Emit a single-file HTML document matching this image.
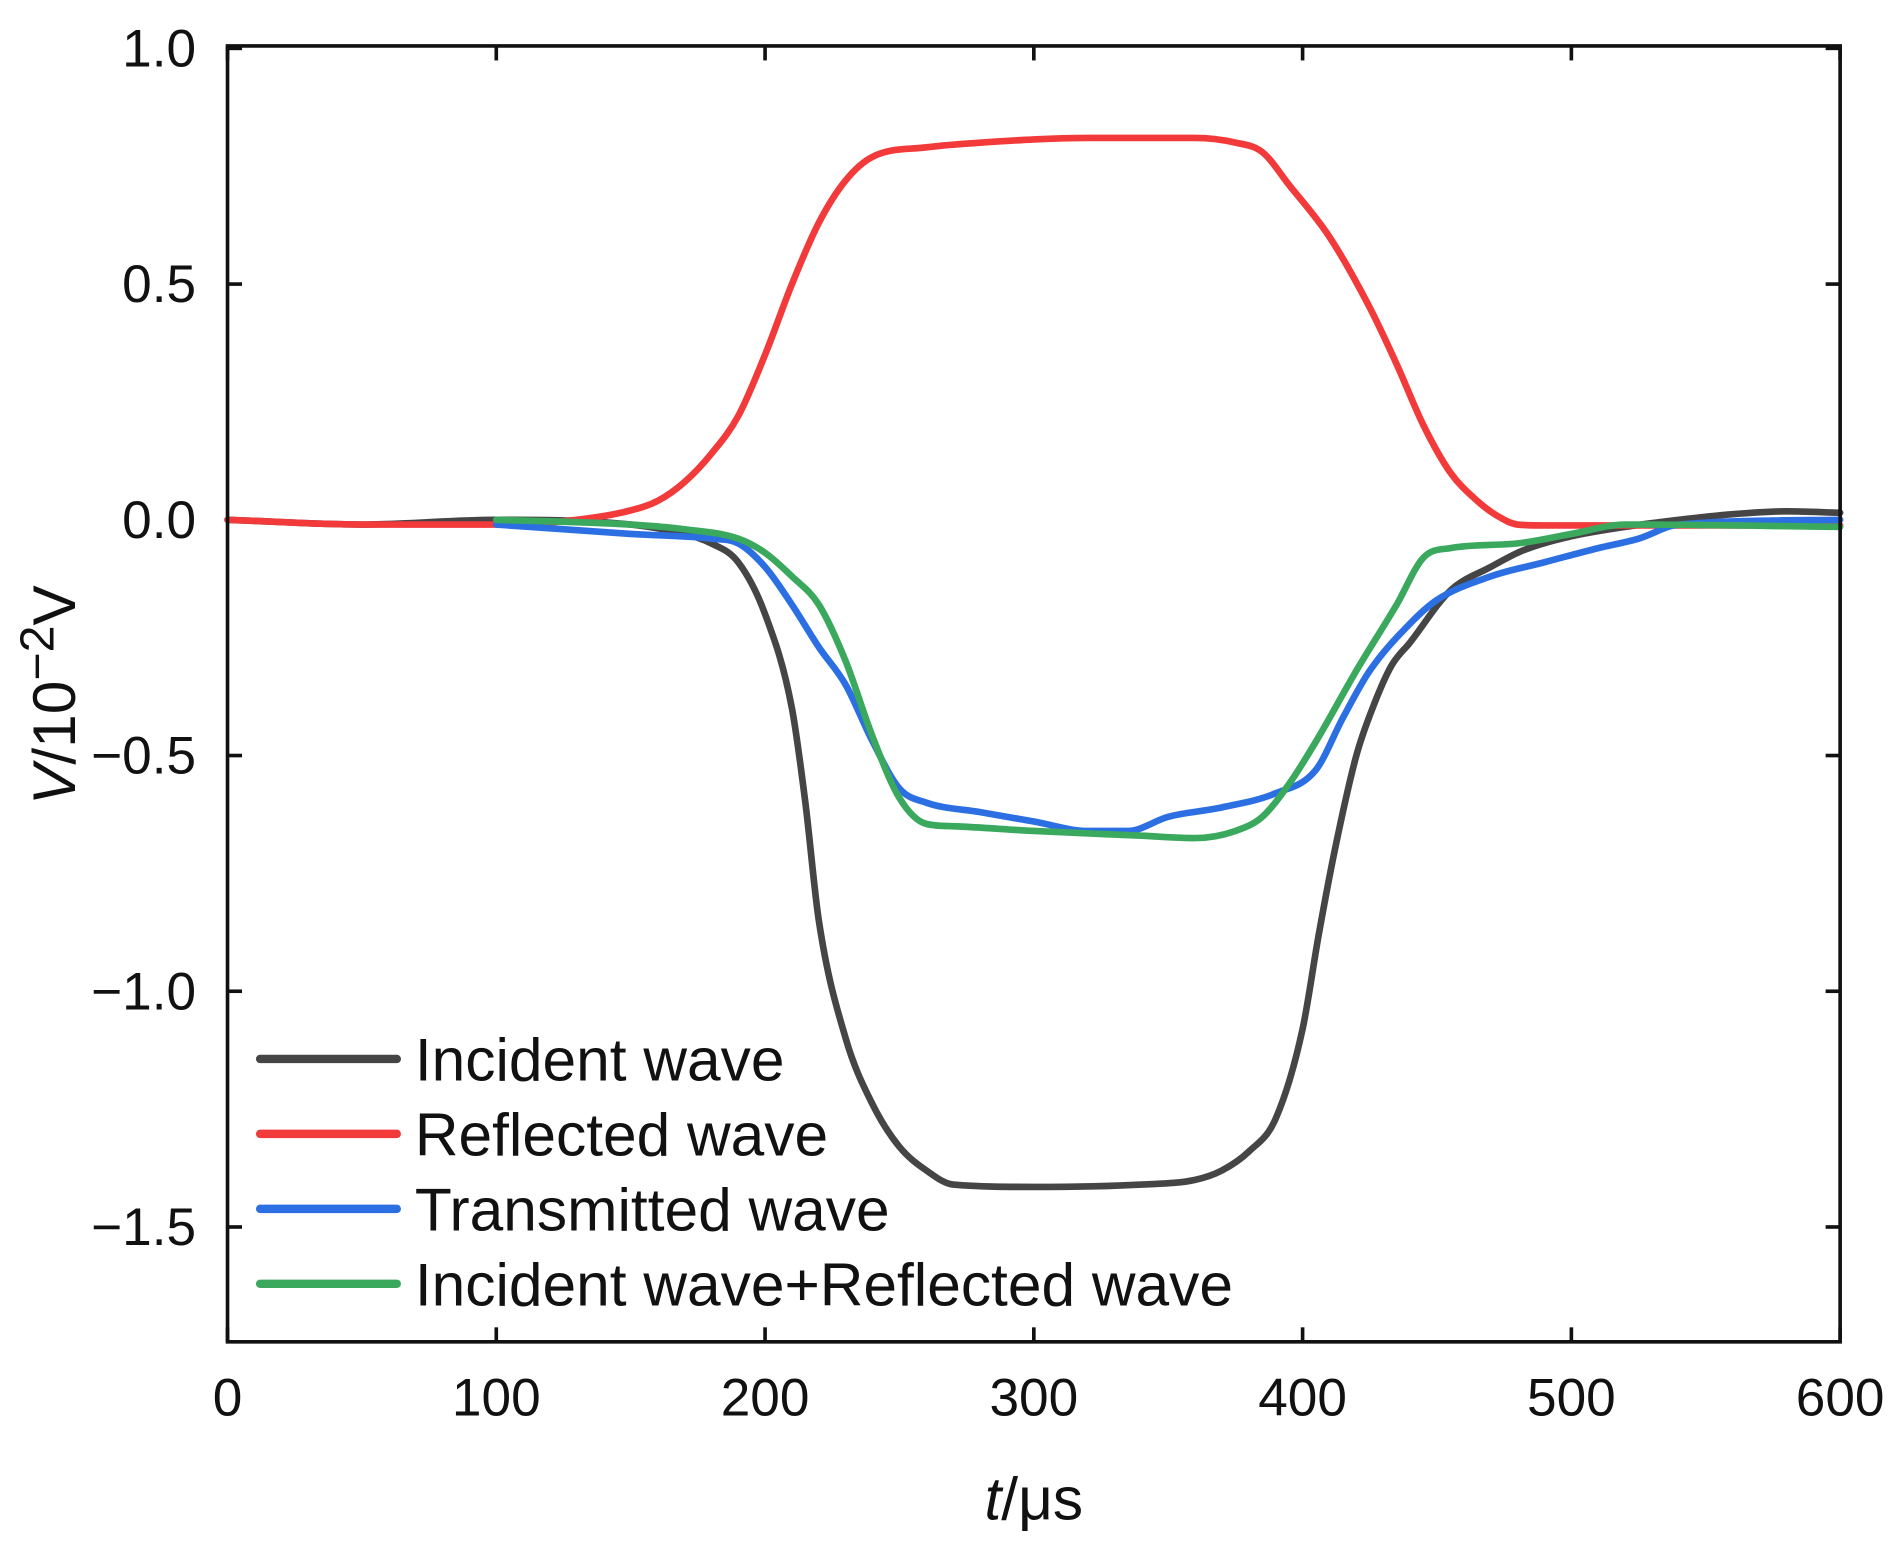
<!DOCTYPE html>
<html><head><meta charset="utf-8"><style>
html,body{margin:0;padding:0;background:#fff}
svg{display:block}
text{font-family:"Liberation Sans",Arial,sans-serif;fill:#111}
</style></head><body>
<svg id="chart" width="1896" height="1557" viewBox="0 0 1568 1288">
<g id="ticks"></g>
<g id="series"></g>
<rect x="188" y="38" width="1334" height="1072" fill="none" stroke="#111" stroke-width="3"/>
<text x="855" y="1257" font-size="50" text-anchor="middle"><tspan font-style="italic">t</tspan>/μs</text>
<text transform="translate(62,575) rotate(-90)" font-size="50" text-anchor="middle"><tspan font-style="italic">V</tspan>/10<tspan font-size="40" dy="-18">−2</tspan><tspan dy="18">V</tspan></text>
<g id="legend"></g>
</svg>
<script>
const xTicks=[0,100,200,300,400,500,600];
const yTicks=[1.0,0.5,0.0,-0.5,-1.0,-1.5];
const yTickLabels=["1.0","0.5","0.0","−0.5","−1.0","−1.5"];
const seriesNames=["Incident wave","Reflected wave","Transmitted wave","Incident wave+Reflected wave"];
const seriesColors=["#454545","#f23a3a","#2b6fe3","#3aa95e"];
const incT=[0,50,100,150,170,180,190,200,210,215,220,230,240,250,260,270,300,340,360,370,380,390,400,406,412,420,426,433,440,455,470,482,500,520,540,560,580,600];
const incV=[0,-0.01,0,-0.01,-0.03,-0.05,-0.09,-0.2,-0.4,-0.6,-0.85,-1.1,-1.24,-1.33,-1.38,-1.41,-1.415,-1.41,-1.40,-1.38,-1.34,-1.27,-1.08,-0.88,-0.7,-0.5,-0.4,-0.31,-0.26,-0.15,-0.1,-0.065,-0.035,-0.015,0,0.012,0.018,0.015];
const refT=[0,50,100,130,150,160,170,180,190,200,210,220,230,240,260,280,320,360,375,385,395,410,425,435,445,455,465,472,480,490,600];
const refV=[0,-0.01,-0.01,0,0.02,0.04,0.08,0.14,0.22,0.35,0.5,0.63,0.72,0.77,0.79,0.80,0.81,0.81,0.80,0.78,0.71,0.6,0.45,0.33,0.2,0.1,0.04,0.01,-0.01,-0.012,-0.012];
const traT=[100,150,180,190,200,210,220,230,240,250,260,280,300,320,335,350,370,390,405,415,425,440,450,470,490,510,525,540,600];
const traV=[-0.01,-0.03,-0.04,-0.05,-0.1,-0.18,-0.27,-0.35,-0.47,-0.57,-0.6,-0.62,-0.64,-0.66,-0.66,-0.63,-0.61,-0.58,-0.53,-0.42,-0.32,-0.22,-0.17,-0.12,-0.09,-0.06,-0.04,-0.01,0];
const sumT=[100,150,170,190,200,210,220,230,240,250,260,270,300,340,360,375,385,395,405,420,435,445,455,480,500,520,600];
const sumV=[0,-0.01,-0.02,-0.04,-0.07,-0.12,-0.18,-0.3,-0.46,-0.59,-0.645,-0.65,-0.66,-0.67,-0.675,-0.66,-0.63,-0.56,-0.47,-0.32,-0.18,-0.08,-0.06,-0.05,-0.03,-0.01,-0.015];
const X=t=>188+t*1334/600;
const Y=v=>430-390*v;
const NS="http://www.w3.org/2000/svg";
function mk(tag,attrs,parent){const e=document.createElementNS(NS,tag);for(const k in attrs)e.setAttribute(k,attrs[k]);parent.appendChild(e);return e;}
const tg=document.getElementById('ticks');
xTicks.forEach(t=>{
 const a=mk('line',{x1:X(t),x2:X(t),y1:1110,y2:1098,stroke:'#111','stroke-width':3},tg);
 
 
 const b=mk('line',{x1:X(t),x2:X(t),y1:38,y2:50,stroke:'#111','stroke-width':3},tg);
 
 
 const l=mk('text',{x:X(t),y:1171,'font-size':44,'text-anchor':'middle'},tg);
 l.textContent=t;
 
 
});
yTicks.forEach((v,i)=>{
 const a=mk('line',{x1:188,x2:200,y1:Y(v),y2:Y(v),stroke:'#111','stroke-width':3},tg);
 
 
 const b=mk('line',{x1:1510,x2:1522,y1:Y(v),y2:Y(v),stroke:'#111','stroke-width':3},tg);
 
 
 const l=mk('text',{x:162,y:Y(v)+15,'font-size':44,'text-anchor':'end'},tg);
 l.textContent=yTickLabels[i];
 
 
});
const sg=document.getElementById('series');
const data=[[incT,incV],[refT,refV],[traT,traV],[sumT,sumV]];
function monotone(ts,vs){
 const n=ts.length,x=ts.map(X),y=vs.map(Y);
 const d=[],m=new Array(n);
 for(let i=0;i<n-1;i++)d.push((y[i+1]-y[i])/(x[i+1]-x[i]));
 m[0]=d[0];m[n-1]=d[n-2];
 for(let i=1;i<n-1;i++){m[i]=(d[i-1]*d[i]<=0)?0:(d[i-1]+d[i])/2;}
 for(let i=0;i<n-1;i++){
  if(d[i]===0){m[i]=0;m[i+1]=0;continue;}
  const a=m[i]/d[i],b=m[i+1]/d[i],s=a*a+b*b;
  if(s>9){const t=3/Math.sqrt(s);m[i]=t*a*d[i];m[i+1]=t*b*d[i];}
 }
 let p=`M${x[0]},${y[0]}`;
 for(let i=0;i<n-1;i++){
  const h=(x[i+1]-x[i])/3;
  p+=` C${x[i]+h},${y[i]+m[i]*h} ${x[i+1]-h},${y[i+1]-m[i+1]*h} ${x[i+1]},${y[i+1]}`;
 }
 return p;
}
const keys=['incident-wave-line','reflected-wave-line','transmitted-wave-line','sum-wave-line'];
[0,1,2,3].forEach(i=>{
 const pth=mk('path',{d:monotone(data[i][0],data[i][1]),fill:'none',stroke:seriesColors[i],'stroke-width':5.5,'stroke-linejoin':'round','stroke-linecap':'round'},sg);
 
 
});
const lg=document.getElementById('legend');
seriesNames.forEach((n,i)=>{
 const y=876+i*62;
 const g=mk('g',{},lg);
 
 
 mk('line',{x1:215,x2:328,y1:y,y2:y,stroke:seriesColors[i],'stroke-width':7,'stroke-linecap':'round'},g);
 const t=mk('text',{x:343,y:y+18,'font-size':50},g);
 t.textContent=n;
});
</script>
</body></html>
